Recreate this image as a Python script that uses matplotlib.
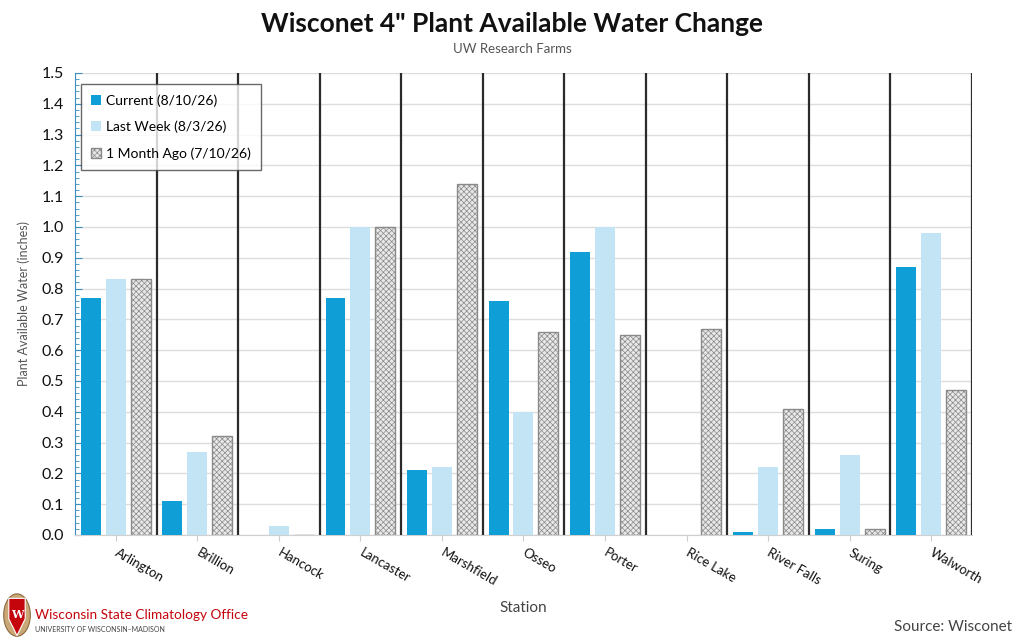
import matplotlib
matplotlib.use("Agg")
import matplotlib.pyplot as plt
import numpy as np
from matplotlib.patches import Ellipse, Polygon
from matplotlib.ticker import MultipleLocator, FormatStrFormatter

plt.rcParams['font.family'] = ['Lato', 'DejaVu Sans']
plt.rcParams['hatch.color'] = '#8a8a8a'
plt.rcParams['hatch.linewidth'] = 0.5

stations = ['Arlington', 'Brillion', 'Hancock', 'Lancaster', 'Marshfield', 'Osseo',
            'Porter', 'Rice Lake', 'River Falls', 'Suring', 'Walworth']
current = [0.77, 0.11, 0.0, 0.77, 0.21, 0.76, 0.92, 0.0, 0.01, 0.02, 0.87]
last_week = [0.83, 0.27, 0.03, 1.00, 0.22, 0.40, 1.00, 0.0, 0.22, 0.26, 0.98]
month_ago = [0.83, 0.32, 0.0, 1.00, 1.14, 0.66, 0.65, 0.67, 0.41, 0.02, 0.47]
labels = ['Current (8/10/26)', 'Last Week (8/3/26)', '1 Month Ago (7/10/26)']

fig = plt.figure(figsize=(10.24, 6.42), dpi=100)
ax = fig.add_axes([0.0732, 0.1667, 0.8760, 0.7196])

x = np.arange(len(stations))
w = 0.245
step = 0.305
ax.bar(x - step, current, w, color='#0f9fd6', label=labels[0], zorder=3)
ax.bar(x, last_week, w, color='#c2e4f4', label=labels[1], zorder=3)
ax.bar(x + step, month_ago, w, facecolor='#e8e8e8', edgecolor='#8a8a8a',
       hatch='xxxxxx', linewidth=1.0, label=labels[2], zorder=3)

# group separators
for b in np.arange(0.5, len(stations), 1.0):
    ax.axvline(b, color='#2b2b2b', linewidth=1.6, zorder=4)

ax.set_xlim(-0.5, len(stations) - 0.5)
ax.set_ylim(0, 1.5)
ax.yaxis.set_major_locator(MultipleLocator(0.1))
ax.yaxis.set_minor_locator(MultipleLocator(0.02))
ax.yaxis.set_major_formatter(FormatStrFormatter('%.1f'))
ax.grid(axis='y', color='#dddddd', linewidth=1.0, zorder=0)
ax.set_axisbelow(True)

for s in ['top', 'right']:
    ax.spines[s].set_visible(False)
ax.spines['left'].set_color('#3b8fc0')
ax.spines['bottom'].set_color('#d0d0d0')

ax.tick_params(axis='y', which='major', direction='in', length=5, color='#3b8fc0',
               labelsize=11.5, labelcolor='#111111', pad=8)
ax.tick_params(axis='y', which='minor', direction='in', length=3, color='#3b8fc0')
ax.set_xticks(x)
ax.set_xticklabels(stations, rotation=-30, ha='left', va='center',
                   rotation_mode='anchor', fontsize=9.5, color='#111111')
ax.tick_params(axis='x', length=4, color='#cccccc', pad=8)

ax.set_ylabel('Plant Available Water (inches)', fontsize=9, color='#555555', labelpad=8)
ax.set_xlabel('Station', fontsize=11, color='#444444', labelpad=9)

leg = ax.legend(loc='upper left', bbox_to_anchor=(0.002, 0.985), fontsize=10,
                frameon=True, fancybox=False, edgecolor='#444444',
                handlelength=0.7, handleheight=0.7, handletextpad=0.4,
                labelspacing=1.0, borderpad=0.72, borderaxespad=0.3)
leg.get_frame().set_linewidth(1.0)
leg.set_zorder(6)

fig.text(0.5, 0.963, 'Wisconet 4" Plant Available Water Change', ha='center', va='center',
         fontsize=19, fontweight='bold', color='#111111')
fig.text(0.5, 0.924, 'UW Research Farms', ha='center', va='center',
         fontsize=9.5, color='#555555')
fig.text(0.988, 0.023, 'Source: Wisconet', ha='right', va='center',
         fontsize=11, color='#444444')

# logo
crest = Ellipse((0.0166, 0.042), 0.026, 0.066, transform=fig.transFigure,
                facecolor='#c9a878', edgecolor='#8c6a3f', linewidth=0.8)
fig.patches.append(crest)
shield = Polygon([[0.0086, 0.068], [0.0246, 0.068], [0.0246, 0.036],
                  [0.0166, 0.010], [0.0086, 0.036]], closed=True,
                 transform=fig.transFigure, facecolor='#c5050c', edgecolor='white', linewidth=0.8)
fig.patches.append(shield)
fig.text(0.0166, 0.043, 'W', ha='center', va='center', fontsize=8,
         fontweight='bold', color='white', family='DejaVu Serif')
fig.text(0.034, 0.042, 'Wisconsin State Climatology Office', ha='left', va='center',
         fontsize=9.8, color='#c5050c')
fig.text(0.034, 0.019, 'UNIVERSITY OF WISCONSIN\u2013MADISON', ha='left', va='center',
         fontsize=5, color='#444444')

fig.savefig('out.png', dpi=100)
